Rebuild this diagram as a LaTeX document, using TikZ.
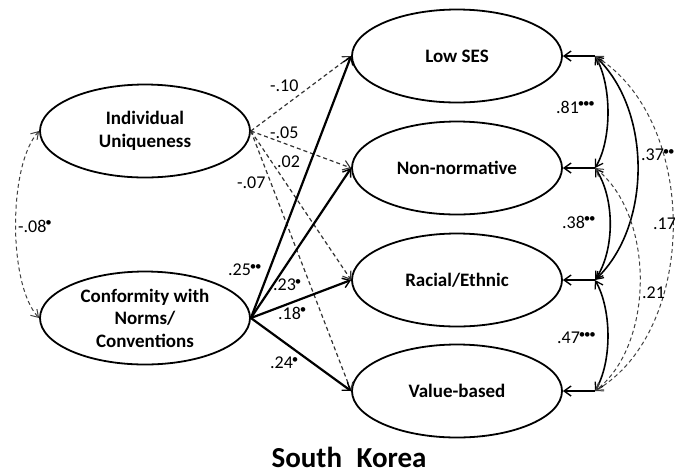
\documentclass[tikz,border=0pt]{standalone}
\usepackage{fontspec}
\setmainfont{Carlito}
\usetikzlibrary{shapes.geometric,arrows.meta}
\newcommand{\sigdots}[1]{\raisebox{0.3em}{\fontsize{13}{13}\selectfont\foreach \i in {1,...,#1}{\kern-1.2pt•}}}
\tikzset{
  construct/.style={ellipse,draw,line width=1.8pt,minimum width=210pt,minimum height=93pt,inner sep=0pt,
    font=\fontsize{19}{22.5}\selectfont\bfseries,align=center},
  pathsolid/.style={line width=2.2pt,-{Straight Barb[length=7pt,width=10pt,line width=1.4pt]}},
  pathdash/.style={line width=1.2pt,dash pattern=on 4pt off 3pt,draw=black!80,-{Straight Barb[length=7pt,width=10pt,line width=1.1pt]}},
  resid/.style={line width=2.2pt,-{Straight Barb[length=7pt,width=10pt,line width=1.4pt]}},
  covsolid/.style={line width=1.6pt,{Straight Barb[length=7pt,width=9pt,line width=1.3pt]}-{Straight Barb[length=7pt,width=9pt,line width=1.3pt]}},
  covdash/.style={line width=1pt,dash pattern=on 4pt off 3pt,draw=black!75,{Straight Barb[length=7pt,width=9pt,line width=1pt]}-{Straight Barb[length=7pt,width=9pt,line width=1pt]}},
  coef/.style={font=\fontsize{18}{18}\selectfont,inner sep=0pt,anchor=west}
}
\begin{document}
\begin{tikzpicture}[x=1pt,y=-1pt]
\useasboundingbox (0,0) rectangle (675,475);
\begin{scope}
\clip (0,0) rectangle (675,475);
% predictors
\node[construct] (iu) at (145,131) {Individual\\Uniqueness};
\node[construct] (cn) at (145,318) {Conformity with\\Norms/\\Conventions};
% outcomes
\node[construct] (ses) at (457,56) {Low SES};
\node[construct] (nn) at (457,168) {Non-normative};
\node[construct] (re) at (457,280) {Racial/Ethnic};
\node[construct] (vb) at (457,391) {Value-based};
% residual points
\coordinate (e1) at (595,56);
\coordinate (e2) at (595,168);
\coordinate (e3) at (595,280);
\coordinate (e4) at (595,391);
\foreach \e/\t in {e1/ses,e2/nn,e3/re,e4/vb}{\draw[resid] (\e) -- (\t.east);}
% predictor covariance
\draw[covdash] (iu.west) .. controls (8,165) and (8,285) .. (cn.west);
\node[coef] at (18,226) {-.08\sigdots{1}};
% paths from individual uniqueness
\foreach \t in {ses,nn,re,vb}{\draw[pathdash] (iu.east) -- (\t.west);}
% paths from conformity
\foreach \t in {ses,nn,re,vb}{\draw[pathsolid] (cn.east) -- (\t.west);}
\node[coef] at (270,86) {-.10};
\node[coef] at (270,133) {-.05};
\node[coef] at (277,162) {.02};
\node[coef] at (237,183) {-.07};
\node[coef] at (228,270) {.25\sigdots{2}};
\node[coef] at (273,285) {.23\sigdots{1}};
\node[coef] at (278,313) {.18\sigdots{1}};
\node[coef] at (270,363) {.24\sigdots{1}};
% residual covariances
\draw[covsolid] (e1) .. controls (612,85) and (612,140) .. (e2);
\draw[covsolid] (e2) .. controls (615,198) and (615,250) .. (e3);
\draw[covsolid] (e3) .. controls (612,310) and (612,362) .. (e4);
\draw[covsolid] (e1) .. controls (652,110) and (652,226) .. (e3);
\draw[covdash] (e2) .. controls (655,215) and (655,345) .. (e4);
\draw[covdash] (e1) .. controls (699,120) and (699,330) .. (e4);
\node[coef] at (556,107) {.81\sigdots{3}};
\node[coef] at (562,222) {.38\sigdots{2}};
\node[coef] at (557,338) {.47\sigdots{3}};
\node[coef] at (641,155) {.37\sigdots{2}};
\node[coef] at (653,224) {.17};
\node[coef] at (642,293) {.21};
\end{scope}
\node[font=\fontsize{29}{29}\selectfont\bfseries,inner sep=0pt,anchor=base] (title) at (349,467) {South\hspace{0.5em}Korea};
\end{tikzpicture}
\end{document}
